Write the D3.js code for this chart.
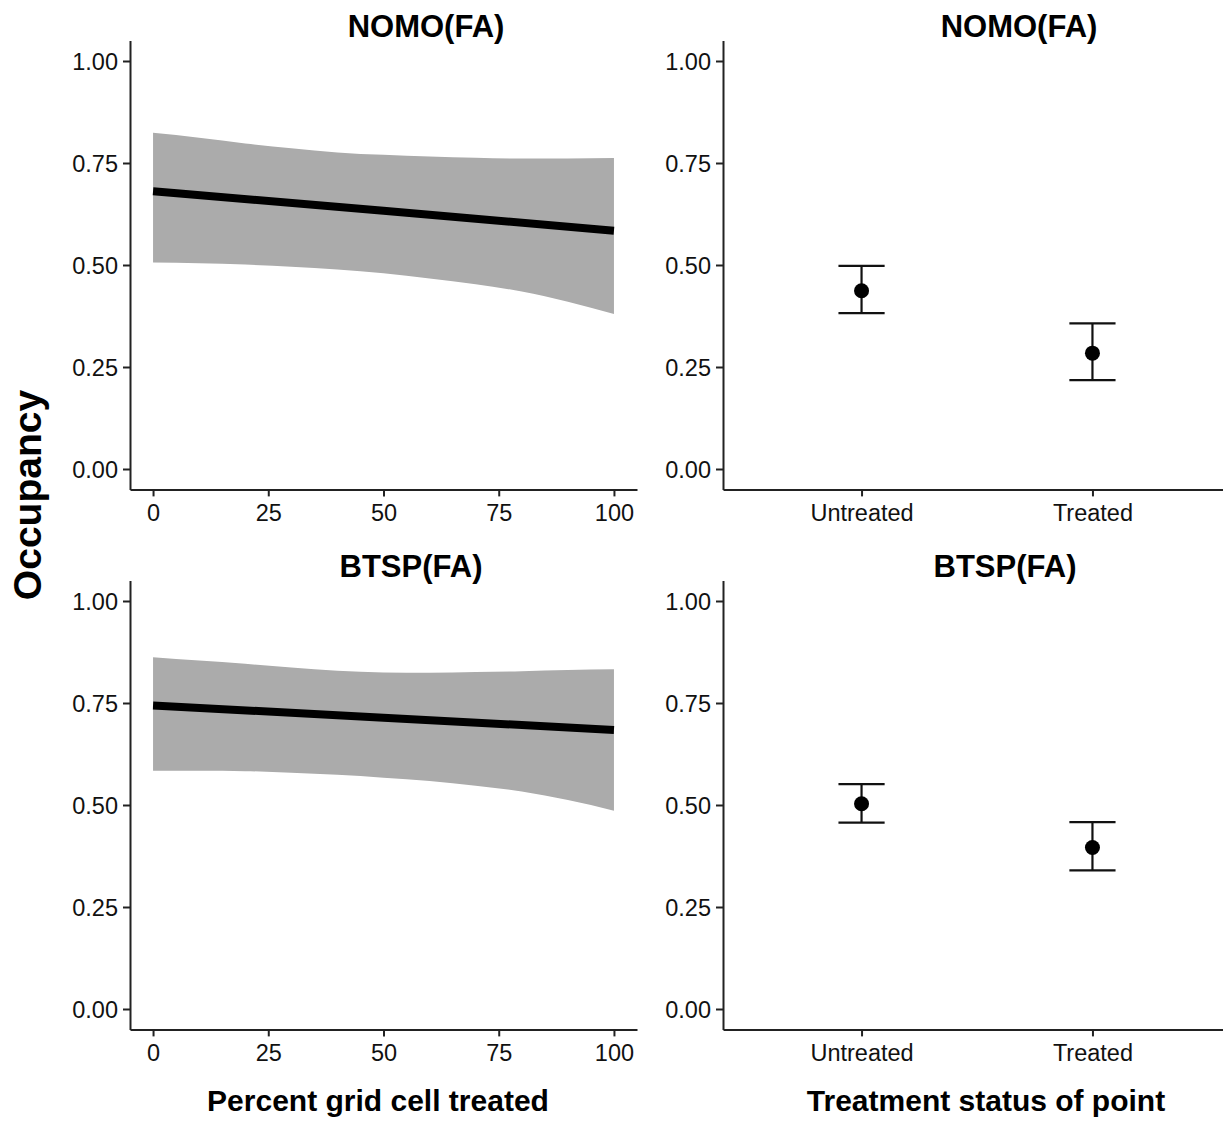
<!DOCTYPE html>
<html>
<head>
<meta charset="utf-8">
<script src="https://cdn.jsdelivr.net/npm/d3@7"></script>
<style>
  body { margin: 0; background: #fff; }
  text { font-family: "Liberation Sans", Arial, sans-serif; }
</style>
</head>
<body>
<div id="chart"></div>
<script>
var width = 1223;
var height = 1121;

// left panels: occupancy vs percent of grid cell treated
var pctX = [0, 10, 20, 30, 40, 50, 60, 70, 80, 90, 100];
var nomoUpper = [0.824, 0.812, 0.798, 0.786, 0.776, 0.770, 0.766, 0.763, 0.761, 0.761, 0.762];
var nomoLower = [0.506, 0.504, 0.501, 0.496, 0.489, 0.480, 0.467, 0.453, 0.435, 0.410, 0.380];
var btspUpper = [0.862, 0.854, 0.846, 0.837, 0.829, 0.825, 0.824, 0.826, 0.828, 0.831, 0.833];
var btspLower = [0.584, 0.584, 0.583, 0.579, 0.574, 0.567, 0.559, 0.547, 0.533, 0.512, 0.486];
var fitX = [0, 50, 100];
var nomoFit = [0.681, 0.633, 0.584];
var btspFit = [0.744, 0.714, 0.684];

// right panels: occupancy by treatment status of point
var pointStatus = ['Untreated', 'Treated'];
var nomoMean = [0.437, 0.284];
var nomoLo = [0.382, 0.218];
var nomoHi = [0.498, 0.357];
var btspMean = [0.503, 0.396];
var btspLo = [0.457, 0.340];
var btspHi = [0.551, 0.458];

var yTicks = [0, 0.25, 0.5, 0.75, 1];
var xTicks = [0, 25, 50, 75, 100];

var svg = d3.select('#chart').append('svg')
            .attr('width', width).attr('height', height);

var rows = [
  {title: 'NOMO(FA)', top: 40.6, upper: nomoUpper, lower: nomoLower, fit: nomoFit,
   mean: nomoMean, lo: nomoLo, hi: nomoHi, titleL: 426, titleR: 1019},
  {title: 'BTSP(FA)', top: 580.6, upper: btspUpper, lower: btspLower, fit: btspFit,
   mean: btspMean, lo: btspLo, hi: btspHi, titleL: 411, titleR: 1005}
];

var panelH = 448.8;
var tick = 7;

function styleAxis(g){
  g.selectAll('.domain').attr('stroke', '#222').attr('stroke-width', 2);
  g.selectAll('.tick line').attr('stroke', '#222').attr('stroke-width', 2);
  g.selectAll('.tick text').attr('fill', '#111').attr('font-size', '23.5px')
    .attr('font-family', '"Liberation Sans", Arial, sans-serif');
}

rows.forEach(function(r){
  var y = d3.scaleLinear().domain([-0.05, 1.05]).range([r.top + panelH, r.top]);

  // ---- left panel
  var x = d3.scaleLinear().domain([-5, 105]).range([130, 637]);
  var band = pctX.map(function(d, i){ return {x: d, lo: r.lower[i], hi: r.upper[i]}; });
  svg.append('path').datum(band)
      .attr('fill', '#ababab')
      .attr('d', d3.area().curve(d3.curveMonotoneX)
        .x(function(d){ return x(d.x); })
        .y0(function(d){ return y(d.lo); })
        .y1(function(d){ return y(d.hi); }));
  svg.append('path').datum(fitX.map(function(d, i){ return [d, r.fit[i]]; }))
      .attr('fill', 'none').attr('stroke', '#000').attr('stroke-width', 8)
      .attr('d', d3.line().curve(d3.curveMonotoneX)
        .x(function(d){ return x(d[0]); })
        .y(function(d){ return y(d[1]); }));

  var gy = svg.append('g').attr('transform', 'translate(130,0)')
      .call(d3.axisLeft(y).tickValues(yTicks).tickFormat(d3.format('.2f'))
        .tickSize(tick).tickSizeOuter(0).tickPadding(5));
  styleAxis(gy);
  gy.selectAll('.tick text').attr('dy', '0.35em');
  var gx = svg.append('g').attr('transform', 'translate(0,' + (r.top + panelH) + ')')
      .call(d3.axisBottom(x).tickValues(xTicks).tickSize(tick).tickSizeOuter(0).tickPadding(8));
  styleAxis(gx);

  svg.append('text').attr('x', r.titleL).attr('y', r.top - 4)
      .attr('text-anchor', 'middle').attr('font-weight', 'bold')
      .attr('font-size', '31px').text(r.title);

  // ---- right panel
  var xc = d3.scalePoint().domain(pointStatus).range([723, 1231]).padding(0.6);
  var capW = xc.step() * 0.1;
  var pts = pointStatus.map(function(s, i){ return {s: s, m: r.mean[i], lo: r.lo[i], hi: r.hi[i]}; });

  var eb = svg.append('g').attr('stroke', '#111').attr('stroke-width', 2.2);
  eb.selectAll('.v').data(pts).enter().append('line')
      .attr('x1', function(d){ return xc(d.s); }).attr('x2', function(d){ return xc(d.s); })
      .attr('y1', function(d){ return y(d.lo); }).attr('y2', function(d){ return y(d.hi); });
  eb.selectAll('.hi').data(pts).enter().append('line')
      .attr('x1', function(d){ return xc(d.s) - capW; }).attr('x2', function(d){ return xc(d.s) + capW; })
      .attr('y1', function(d){ return y(d.hi); }).attr('y2', function(d){ return y(d.hi); });
  eb.selectAll('.lo').data(pts).enter().append('line')
      .attr('x1', function(d){ return xc(d.s) - capW; }).attr('x2', function(d){ return xc(d.s) + capW; })
      .attr('y1', function(d){ return y(d.lo); }).attr('y2', function(d){ return y(d.lo); });
  svg.selectAll(null).data(pts).enter().append('circle')
      .attr('cx', function(d){ return xc(d.s); })
      .attr('cy', function(d){ return y(d.m); })
      .attr('r', 7.5).attr('fill', '#000');

  var gy2 = svg.append('g').attr('transform', 'translate(723,0)')
      .call(d3.axisLeft(y).tickValues(yTicks).tickFormat(d3.format('.2f'))
        .tickSize(tick).tickSizeOuter(0).tickPadding(5));
  styleAxis(gy2);
  gy2.selectAll('.tick text').attr('dy', '0.35em');
  var gx2 = svg.append('g').attr('transform', 'translate(0,' + (r.top + panelH) + ')')
      .call(d3.axisBottom(xc).tickSize(tick).tickSizeOuter(0).tickPadding(8));
  styleAxis(gx2);

  svg.append('text').attr('x', r.titleR).attr('y', r.top - 4)
      .attr('text-anchor', 'middle').attr('font-weight', 'bold')
      .attr('font-size', '31px').text(r.title);
});

// axis titles
svg.append('text').attr('x', 378).attr('y', 1111)
    .attr('text-anchor', 'middle').attr('font-weight', 'bold').attr('font-size', '30px')
    .text('Percent grid cell treated');
svg.append('text').attr('x', 986).attr('y', 1111)
    .attr('text-anchor', 'middle').attr('font-weight', 'bold').attr('font-size', '30px')
    .text('Treatment status of point');
svg.append('text').attr('transform', 'translate(41,495) rotate(-90)')
    .attr('text-anchor', 'middle').attr('font-weight', 'bold').attr('font-size', '39px')
    .text('Occupancy');
</script>
</body>
</html>
